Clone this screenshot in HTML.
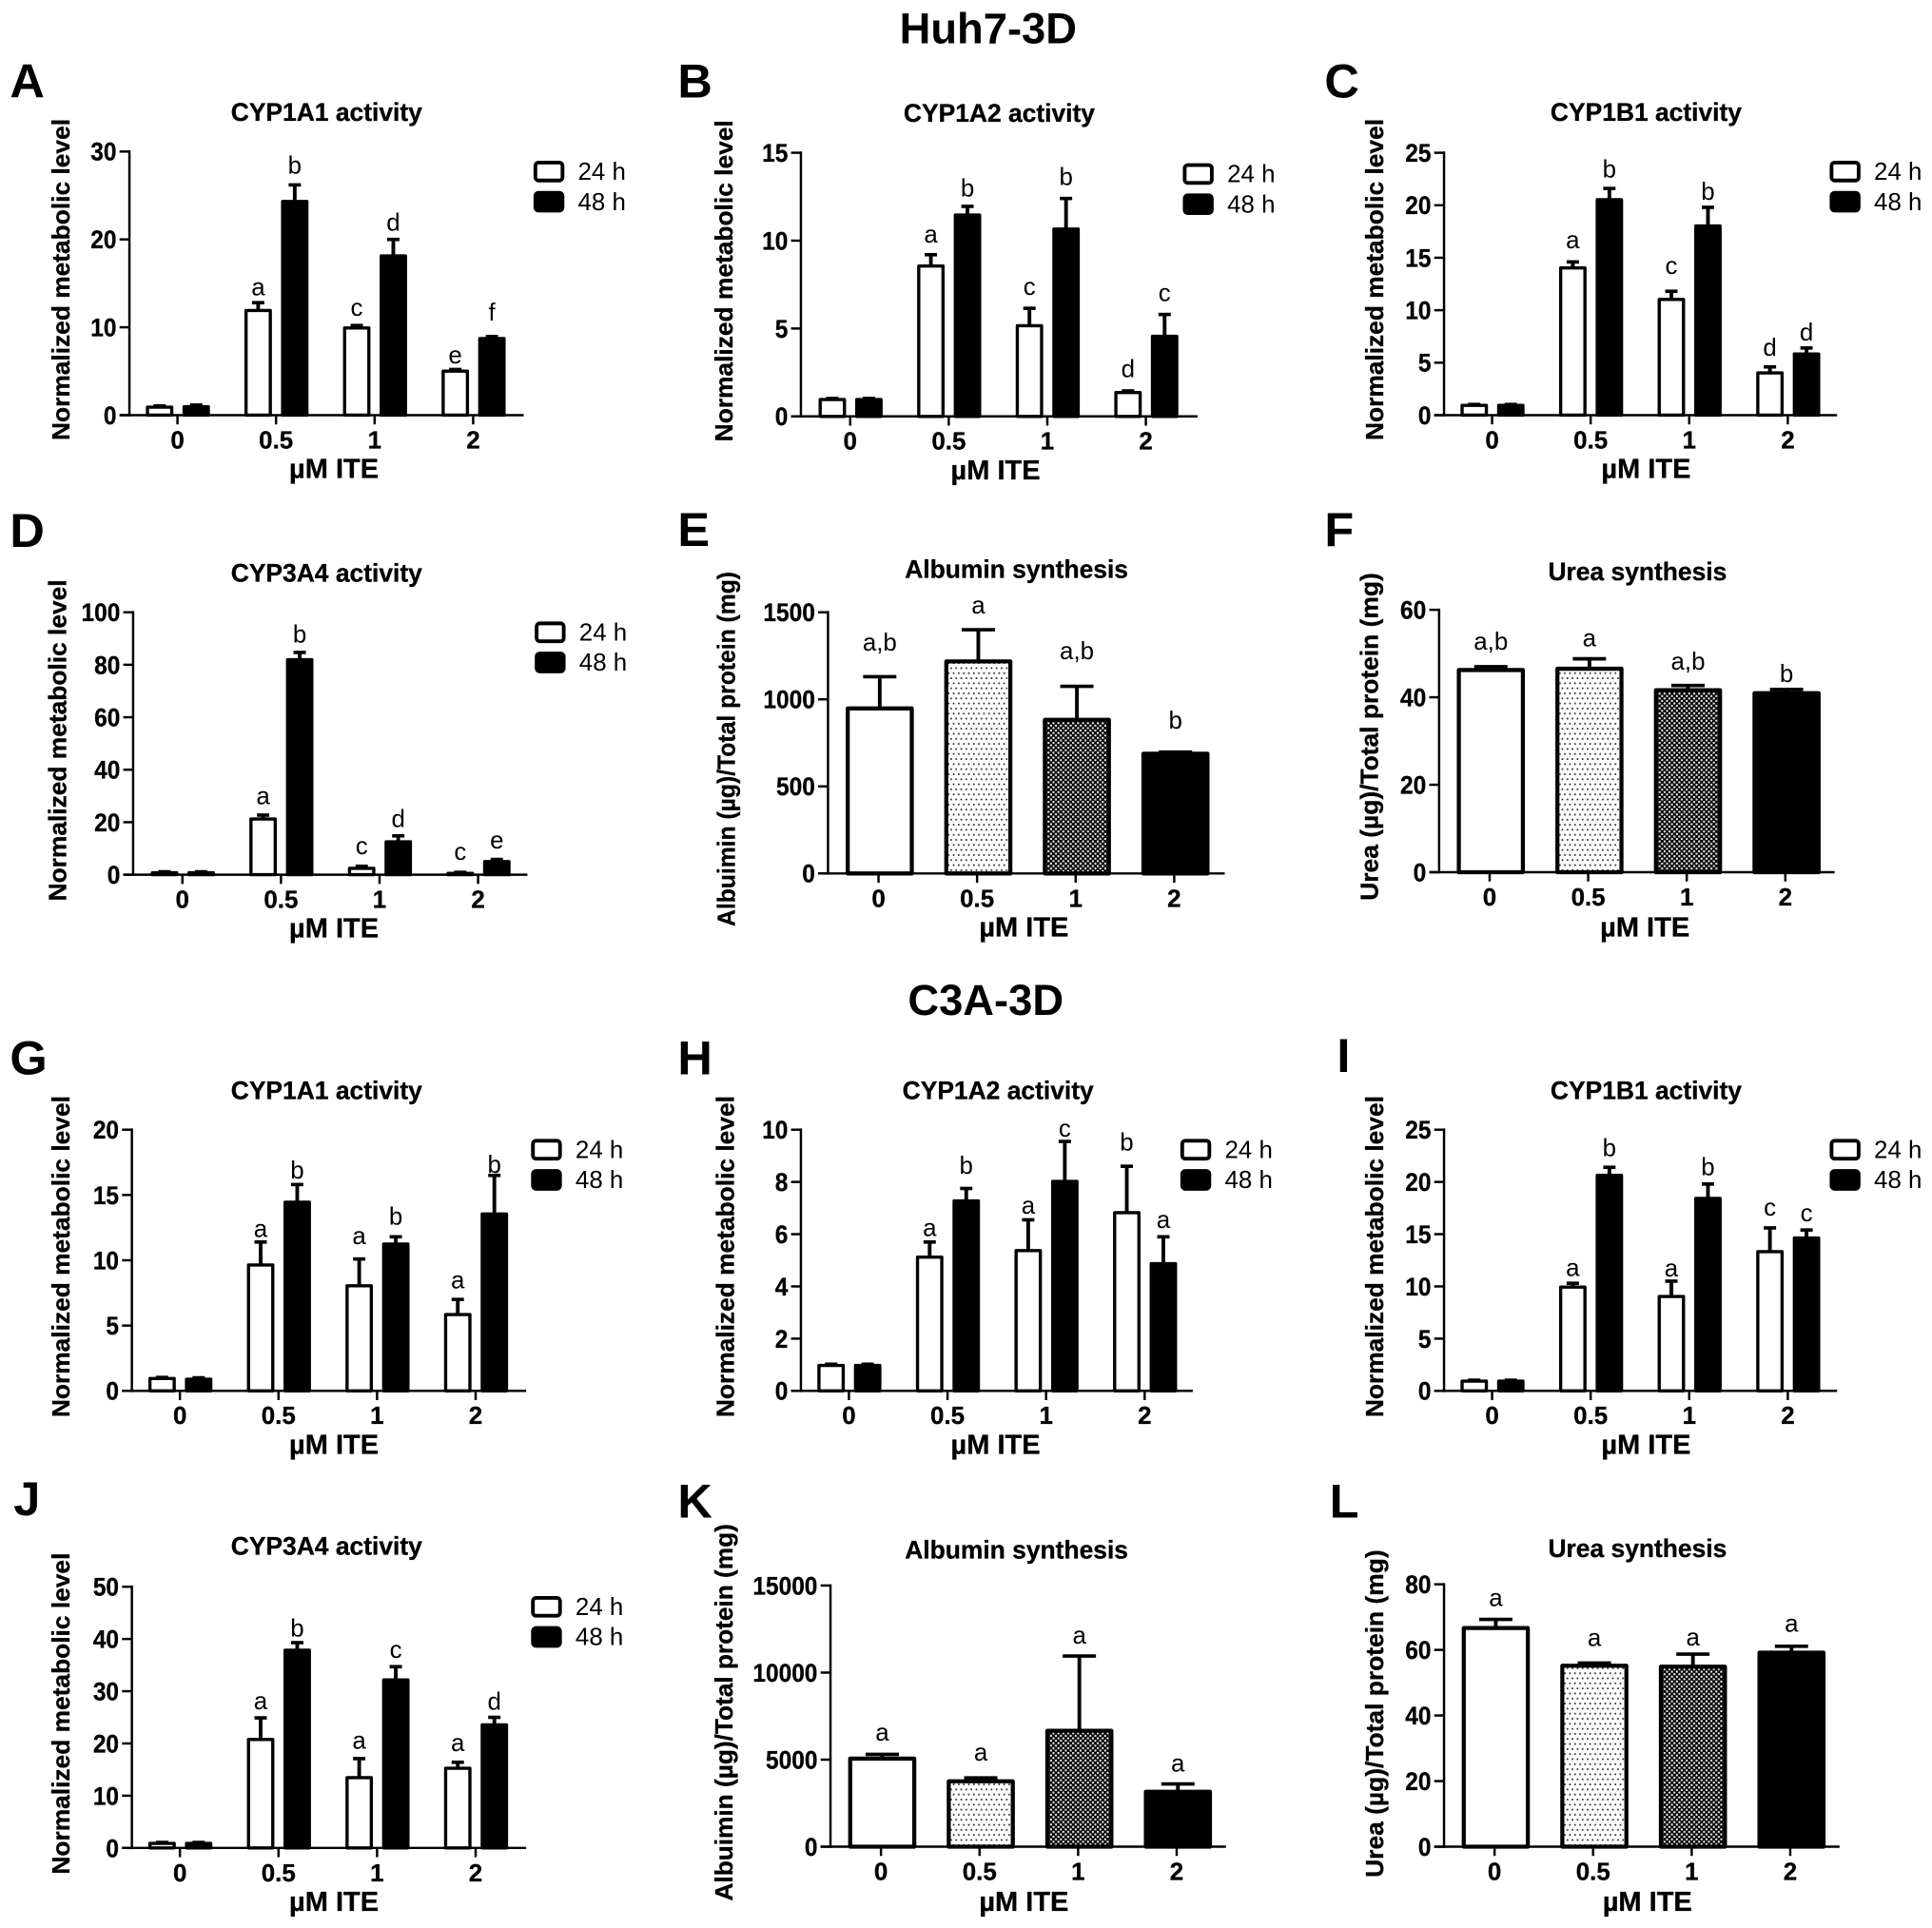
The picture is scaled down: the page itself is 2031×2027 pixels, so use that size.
<!DOCTYPE html>
<html lang="en">
<head>
<meta charset="utf-8">
<title>Huh7-3D and C3A-3D metabolic activity</title>
<style>
html,body{margin:0;padding:0;background:#fff;}
svg{display:block;}
text{font-family:"Liberation Sans",Arial,sans-serif;fill:#000;}
</style>
</head>
<body>
<svg id="figure" xmlns="http://www.w3.org/2000/svg" width="2031" height="2027" viewBox="0 0 1568 1565">
  <defs>
    <pattern id="dots" patternUnits="userSpaceOnUse" width="4.1" height="8.2">
      <rect width="4.1" height="8.2" fill="#fff"/>
      <rect x="0.5" y="0.5" width="1.3" height="1.3" fill="#222"/>
      <rect x="2.55" y="4.6" width="1.3" height="1.3" fill="#222"/>
    </pattern>
    <pattern id="checks" patternUnits="userSpaceOnUse" width="4" height="4">
      <rect width="4" height="4" fill="#000"/>
      <rect x="0.2" y="0.2" width="1.6" height="1.6" fill="#eee"/>
      <rect x="2.2" y="2.2" width="1.6" height="1.6" fill="#eee"/>
    </pattern>
  </defs>
  <rect width="1568" height="1565" fill="#fff"/>
  <text x="802" y="35" font-size="35" font-weight="700" text-anchor="middle">Huh7-3D</text>
  <text x="800" y="824" font-size="35" font-weight="700" text-anchor="middle">C3A-3D</text>
</svg>
<script>
// Shared categories and legend
const doseLabels = ['0', '0.5', '1', '2'];
const legendLabels = ['24 h', '48 h'];

// Y tick labels
const ticksA = [0, 10, 20, 30];
const ticksB = [0, 5, 10, 15];
const ticksC = [0, 5, 10, 15, 20, 25];
const ticksD = [0, 20, 40, 60, 80, 100];
const ticksE = [0, 500, 1000, 1500];
const ticksF = [0, 20, 40, 60];
const ticksG = [0, 5, 10, 15, 20];
const ticksH = [0, 2, 4, 6, 8, 10];
const ticksI = [0, 5, 10, 15, 20, 25];
const ticksJ = [0, 10, 20, 30, 40, 50];
const ticksK = [0, 5000, 10000, 15000];
const ticksL = [0, 20, 40, 60, 80];

// Panel A
const a24 = [1, 12, 10, 5.1];
const a24Err = [0.05, 0.8, 0.2, 0.1];
const a48 = [1.05, 24.4, 18.2, 8.8];
const a48Err = [0.1, 1.8, 1.8, 0.15];
const aLetters = ['', '', 'a', 'b', 'c', 'd', 'e', 'f'];
// Panel B
const b24 = [1, 8.6, 5.2, 1.4];
const b24Err = [0.02, 0.6, 0.95, 0.05];
const b48 = [1, 11.5, 10.7, 4.6];
const b48Err = [0.02, 0.45, 1.7, 1.2];
const bLetters = ['', '', 'a', 'b', 'c', 'b', 'd', 'c'];
// Panel C
const c24 = [1, 14.1, 11.1, 4.1];
const c24Err = [0.02, 0.5, 0.7, 0.5];
const c48 = [1, 20.6, 18.1, 5.9];
const c48Err = [0.02, 1, 1.7, 0.5];
const cLetters = ['', '', 'a', 'b', 'c', 'b', 'd', 'd'];
// Panel D
const d24 = [1, 21.5, 2.7, 0.8];
const d24Err = [0.1, 1.2, 0.5, 0.1];
const d48 = [1, 82.2, 12.8, 5.3];
const d48Err = [0.1, 2.5, 2, 0.5];
const dLetters = ['', '', 'a', 'b', 'c', 'd', 'c', 'e'];
// Panel E
const eValues = [952, 1222, 887, 692];
const eErr = [178, 178, 188, 5];
const eLetters = ['a,b', 'a', 'a,b', 'b'];
// Panel F
const fValues = [46.4, 46.7, 41.8, 41.1];
const fErr = [0.6, 2.1, 0.9, 0.7];
const fLetters = ['a,b', 'a', 'a,b', 'b'];
// Panel G
const g24 = [1, 9.7, 8.1, 5.9];
const g24Err = [0.03, 1.7, 2, 1.1];
const g48 = [0.95, 14.5, 11.3, 13.6];
const g48Err = [0.05, 1.3, 0.5, 2.9];
const gLetters = ['', '', 'a', 'b', 'a', 'b', 'a', 'b'];
// Panel H
const h24 = [1, 5.15, 5.4, 6.85];
const h24Err = [0.02, 0.55, 1.15, 1.75];
const h48 = [1, 7.3, 8.05, 4.9];
const h48Err = [0.02, 0.45, 1.5, 1];
const hLetters = ['', '', 'a', 'b', 'a', 'c', 'b', 'a'];
// Panel I
const i24 = [1, 10, 9.1, 13.4];
const i24Err = [0.02, 0.3, 1.4, 2.2];
const i48 = [1, 20.7, 18.5, 14.7];
const i48Err = [0.02, 0.7, 1.3, 0.7];
const iLetters = ['', '', 'a', 'b', 'a', 'b', 'c', 'c'];
// Panel J
const j24 = [1, 20.9, 13.6, 15.4];
const j24Err = [0.05, 4, 3.5, 1];
const j48 = [1, 38, 32.3, 23.7];
const j48Err = [0.05, 1.3, 2.4, 1.3];
const jLetters = ['', '', 'a', 'b', 'a', 'c', 'a', 'd'];
// Panel K
const kValues = [5100, 3800, 6700, 3200];
const kErr = [200, 150, 4250, 400];
const kLetters = ['a', 'a', 'a', 'a'];
// Panel L
const lValues = [66.9, 55.4, 55.1, 59.4];
const lErr = [2.4, 0.6, 3.6, 1.7];
const lLetters = ['a', 'a', 'a', 'a'];

// Layout only (no data values are stored here except references to the arrays above)
const NM = 'Normalized metabolic level';
const panels = [
 {id:'A',title:'CYP1A1 activity',yl:NM,ticks:ticksA,ax:105,y0:337,top:123,t0:144,xEnd:425,tx:265,ty:98,xl:271,xly:388,ylx:56.5,yly:227,ylw:261,lgx:433,lgy:139,lx:8,ly:79,s24:a24,e24:a24Err,s48:a48,e48:a48Err,letters:aLetters,gaps:[0,0,6,9,8,7,5,13]},
 {id:'B',title:'CYP1A2 activity',yl:NM,ticks:ticksB,ax:650,y0:338,top:124,t0:690,xEnd:972,tx:811,ty:99,xl:808,xly:389,ylx:594.5,yly:228,ylw:261,lgx:960,lgy:141,lx:550,ly:79,s24:b24,e24:b24Err,s48:b48,e48:b48Err,letters:bLetters,gaps:[0,0,10,8,11,11,11,11]},
 {id:'C',title:'CYP1B1 activity',yl:NM,ticks:ticksC,ax:1172,y0:337,top:124,t0:1211,xEnd:1491,tx:1336,ty:98,xl:1336,xly:388,ylx:1122.5,yly:227,ylw:261,lgx:1485,lgy:139,lx:1075,ly:79,s24:c24,e24:c24Err,s48:c48,e48:c48Err,letters:cLetters,gaps:[0,0,11,9,14,6,9,6]},
 {id:'D',title:'CYP3A4 activity',yl:NM,ticks:ticksD,ax:108,y0:710,top:497,t0:148,xEnd:428,tx:265,ty:472,xl:271,xly:761,ylx:53.5,yly:601,ylw:261,lgx:434,lgy:513,lx:8,ly:444,s24:d24,e24:d24Err,s48:d48,e48:d48Err,letters:dLetters,gaps:[0,0,9,8,10,7,10,9]},
 {id:'E',title:'Albumin synthesis',yl:'Albuimin (µg)/Total protein (mg)',ticks:ticksE,ax:672,y0:709,top:497,t0:713,xEnd:994,tx:825,ty:469,xl:831,xly:760,ylx:596.5,yly:608,ylw:288,lx:550,ly:443,vals:eValues,errs:eErr,letters:eLetters,gaps:[21,13,22,19]},
 {id:'F',title:'Urea synthesis',yl:'Urea (µg)/Total protein (mg)',ticks:ticksF,ax:1168,y0:708,top:495,t0:1209,xEnd:1489,tx:1329,ty:471,xl:1335,xly:760,ylx:1118.5,yly:598,ylw:266,lx:1075,ly:443,vals:fValues,errs:fErr,letters:fLetters,gaps:[14,10,13,6]},
 {id:'G',title:'CYP1A1 activity',yl:NM,ticks:ticksG,ax:107,y0:1129,top:917,t0:146,xEnd:427,tx:265,ty:892,xl:271,xly:1180,ylx:56.5,yly:1020,ylw:261,lgx:431,lgy:933,lx:8,ly:872,s24:g24,e24:g24Err,s48:g48,e48:g48Err,letters:gLetters,gaps:[0,0,4,5,12,10,9,2]},
 {id:'H',title:'CYP1A2 activity',yl:NM,ticks:ticksH,ax:650,y0:1129,top:917,t0:689,xEnd:968,tx:810,ty:892,xl:808,xly:1180,ylx:595.5,yly:1020,ylw:261,lgx:958,lgy:933,lx:550,ly:872,s24:h24,e24:h24Err,s48:h48,e48:h48Err,letters:hLetters,gaps:[0,0,5,12,5,4,13,7]},
 {id:'I',title:'CYP1B1 activity',yl:NM,ticks:ticksI,ax:1172,y0:1129,top:917,t0:1211,xEnd:1491,tx:1336,ty:892,xl:1336,xly:1180,ylx:1122.5,yly:1020,ylw:261,lgx:1485,lgy:933,lx:1085,ly:870,s24:i24,e24:i24Err,s48:i48,e48:i48Err,letters:iLetters,gaps:[0,0,6,9,4,7,10,7]},
 {id:'J',title:'CYP3A4 activity',yl:NM,ticks:ticksJ,ax:107,y0:1500,top:1288,t0:146,xEnd:427,tx:265,ty:1262,xl:271,xly:1551,ylx:56.5,yly:1391,ylw:261,lgx:431,lgy:1304,lx:11,ly:1230,s24:j24,e24:j24Err,s48:j48,e48:j48Err,letters:jLetters,gaps:[0,0,7,5,8,7,9,6]},
 {id:'K',title:'Albumin synthesis',yl:'Albuimin (µg)/Total protein (mg)',ticks:ticksK,ax:674,y0:1499,top:1287,t0:715,xEnd:995,tx:825,ty:1265,xl:831,xly:1551,ylx:594.5,yly:1390,ylw:306,lx:550,ly:1232,vals:kValues,errs:kErr,letters:kLetters,gaps:[11,14,10,10]},
 {id:'L',title:'Urea synthesis',yl:'Urea (µg)/Total protein (mg)',ticks:ticksL,ax:1172,y0:1499,top:1286,t0:1213,xEnd:1493,tx:1329,ty:1264,xl:1337,xly:1551,ylx:1122.5,yly:1391,ylw:266,lx:1079,ly:1232,vals:lValues,errs:lErr,letters:lLetters,gaps:[11,14,7,12]}
];

const NS = 'http://www.w3.org/2000/svg';
const svg = document.getElementById('figure');
const TICK_GAP = 80;
const AXIS_W = 1.9;
const BOLD_STROKE = 0.25;
const BAR_TOP_INSET = 0.6;
const singleFills = ['#fff', 'url(#dots)', 'url(#checks)', '#000'];

function make(parent, tag, attrs, text) {
  const el = document.createElementNS(NS, tag);
  for (const k in attrs) el.setAttribute(k, attrs[k]);
  if (text !== undefined) el.textContent = text;
  parent.appendChild(el);
  return el;
}

function drawBar(g, p, label, cx, w, value, err, fill, letter, gap, capW, sw, yScale) {
  const yTop = yScale(value);
  const yCap = yScale(value + err);
  const errLine = make(g, 'line', {x1: cx, x2: cx, y1: yTop, y2: yCap, stroke: '#000', 'stroke-width': 3});
  
  
  const cap = make(g, 'line', {x1: cx - capW / 2, x2: cx + capW / 2, y1: yCap, y2: yCap, stroke: '#000', 'stroke-width': 2.8});
  
  
  const rectTop = yTop + BAR_TOP_INSET;
  const bar = make(g, 'rect', {x: cx - w / 2, y: rectTop, width: w, height: Math.max(0, p.y0 - rectTop), fill: fill, stroke: '#000', 'stroke-width': sw, 'stroke-linejoin': 'round'});
  
  
  if (letter) {
    const t = make(g, 'text', {x: cx, y: yCap - gap, 'font-size': 20, 'text-anchor': 'middle'}, letter);
    
    
  }
}

panels.forEach(function (p) {
  const key = p.id.toLowerCase();
  const g = make(svg, 'g', {});
  
  

  const maxV = p.ticks[p.ticks.length - 1];
  const yScale = function (v) { return p.y0 - (v / maxV) * (p.y0 - p.top); };
  const xScale = function (i) { return p.t0 + i * TICK_GAP; };

  const letter = make(g, 'text', {x: p.lx, y: p.ly, 'font-size': 39, 'font-weight': 700}, p.id);
  
  

  const title = make(g, 'text', {x: p.tx, y: p.ty, 'font-size': 20.4, 'font-weight': 700, 'text-anchor': 'middle', stroke: '#000', 'stroke-width': BOLD_STROKE}, p.title);
  
  

  const yTitle = make(g, 'text', {x: 0, y: 0, 'font-size': 20.3, 'font-weight': 700, 'text-anchor': 'middle', stroke: '#000', 'stroke-width': BOLD_STROKE, textLength: p.ylw, lengthAdjust: 'spacingAndGlyphs', transform: 'translate(' + p.ylx + ',' + p.yly + ') rotate(-90)'}, p.yl);
  
  

  const xTitle = make(g, 'text', {x: p.xl, y: p.xly, 'font-size': 22.4, 'font-weight': 700, 'text-anchor': 'middle', stroke: '#000', 'stroke-width': BOLD_STROKE}, 'µM ITE');
  
  

  // bars first so axes sit on top
  if (p.s24) {
    doseLabels.forEach(function (d, i) {
      const c = xScale(i);
      drawBar(g, p, key + '-24h-' + d, c - 14.5, 19.7, p.s24[i], p.e24[i], '#fff', p.letters[i * 2], p.gaps[i * 2], 10, 2.6, yScale);
      drawBar(g, p, key + '-48h-' + d, c + 15.2, 19.7, p.s48[i], p.e48[i], '#000', p.letters[i * 2 + 1], p.gaps[i * 2 + 1], 10, 2.6, yScale);
    });
    legendLabels.forEach(function (lab, i) {
      const box = make(g, 'rect', {x: p.lgx + 1.5, y: p.lgy - 7 + (i * 24.5), width: 22, height: 14.5, rx: 2.5, fill: i ? '#000' : '#fff', stroke: '#000', 'stroke-width': 3});
      
      
      const t = make(g, 'text', {x: p.lgx + 36, y: p.lgy + 7 + (i * 24.5), 'font-size': 20}, lab);
      
      
    });
  } else {
    doseLabels.forEach(function (d, i) {
      drawBar(g, p, key + '-' + d, xScale(i) + 1, 52, p.vals[i], p.errs[i], singleFills[i], p.letters[i], p.gaps[i], 27, 3.3, yScale);
    });
  }

  const yAxis = make(g, 'line', {x1: p.ax, x2: p.ax, y1: p.top - 1, y2: p.y0 + 1, stroke: '#000', 'stroke-width': AXIS_W});
  
  
  const xAxis = make(g, 'line', {x1: p.ax - 8, x2: p.xEnd, y1: p.y0, y2: p.y0, stroke: '#000', 'stroke-width': AXIS_W});
  
  

  p.ticks.forEach(function (v) {
    const y = yScale(v);
    const tick = make(g, 'line', {x1: p.ax - 8, x2: p.ax, y1: y, y2: y, stroke: '#000', 'stroke-width': AXIS_W});
    
    
    const str = String(v);
    const lab = make(g, 'text', {x: p.ax - 10.5, y: y + 7.3, 'font-size': 20.5, 'font-weight': 700, 'text-anchor': 'end', stroke: '#000', 'stroke-width': BOLD_STROKE, textLength: str.length * 10.5, lengthAdjust: 'spacingAndGlyphs'}, str);
    
    
  });
  doseLabels.forEach(function (d, i) {
    const x = xScale(i);
    const tick = make(g, 'line', {x1: x, x2: x, y1: p.y0, y2: p.y0 + 7.5, stroke: '#000', 'stroke-width': AXIS_W});
    
    
    const lab = make(g, 'text', {x: x, y: p.y0 + 27, 'font-size': 20, 'font-weight': 700, 'text-anchor': 'middle', stroke: '#000', 'stroke-width': BOLD_STROKE}, d);
    
    
  });
});
</script>
</body>
</html>
